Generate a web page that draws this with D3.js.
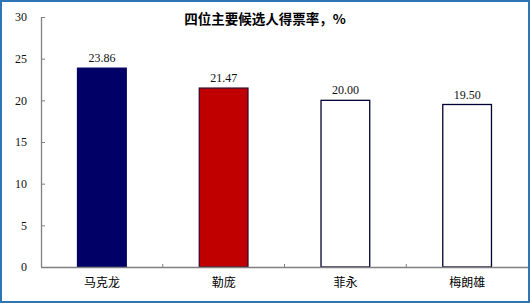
<!DOCTYPE html>
<html>
<head>
<meta charset="utf-8">
<script src="https://cdn.jsdelivr.net/npm/d3@7"></script>
<style>
  body { margin: 0; background: #fff; }
  svg { display: block; }
</style>
</head>
<body>
<div id="chart"></div>
<script>
(function() {
    'use strict';

    // data
    var candidates = ["马克龙", "勒庞", "菲永", "梅朗雄"];
    var voteShare = [23.86, 21.47, 20.00, 19.50];
    var yTicks = [0, 5, 10, 15, 20, 25, 30];
    var chartTitle = "四位主要候选人得票率，%";

    var fills = ["#000066", "#C00000", "#FFFFFF", "#FFFFFF"];
    var strokes = ["#000066", "#3A0A2E", "#000033", "#000033"];

    var width = 530, height = 303;
    var margin = { top: 17, right: 2, bottom: 36, left: 41 };

    var svg = d3.select("#chart").append("svg")
        .attr("width", width)
        .attr("height", height);

    // blue frame
    svg.append("rect")
        .attr("x", 1).attr("y", 1)
        .attr("width", width - 2).attr("height", height - 2)
        .attr("fill", "none")
        .attr("stroke", "#2E75B6")
        .attr("stroke-width", 2);

    var x = d3.scaleBand()
        .domain(candidates)
        .range([margin.left, width - margin.right])
        .paddingInner(0.6)
        .paddingOuter(0.3);

    var y = d3.scaleLinear()
        .domain([0, 30])
        .range([height - margin.bottom, margin.top]);

    // bars
    svg.selectAll("rect.bar")
        .data(voteShare).enter()
        .append("rect")
        .attr("class", "bar")
        .attr("x", function(d, i) { return x(candidates[i]); })
        .attr("y", function(d) { return y(d); })
        .attr("width", x.bandwidth())
        .attr("height", function(d) { return y(0) - y(d); })
        .attr("fill", function(d, i) { return fills[i]; })
        .attr("stroke", function(d, i) { return strokes[i]; })
        .attr("stroke-width", 1.3);

    // value labels
    svg.selectAll("text.val")
        .data(voteShare).enter()
        .append("text")
        .attr("class", "val")
        .attr("x", function(d, i) { return x(candidates[i]) + x.bandwidth() / 2; })
        .attr("y", function(d) { return y(d) - 6; })
        .attr("text-anchor", "middle")
        .attr("font-family", "Liberation Serif, serif")
        .attr("font-size", 12)
        .attr("fill", "#111")
        .text(function(d) { return d.toFixed(2); });

    // y axis
    var yAxis = svg.append("g")
        .attr("transform", "translate(" + margin.left + ",0)")
        .call(d3.axisRight(y).tickValues(yTicks).tickSize(4).tickFormat(d3.format("d")));
    yAxis.select(".domain").attr("stroke", "#808080").attr("stroke-width", 1.3)
        .attr("d", "M0.5," + y(30) + "V" + y(0));
    yAxis.selectAll(".tick line").attr("stroke", "#808080");
    yAxis.selectAll(".tick text")
        .attr("x", -14)
        .attr("text-anchor", "end")
        .attr("font-family", "Liberation Serif, serif")
        .attr("font-size", 12)
        .attr("fill", "#111");

    // x axis
    var bandStep = x.step();
    var xAxis = svg.append("g")
        .attr("transform", "translate(0," + y(0) + ")")
        .call(d3.axisBottom(x).tickSize(0));
    xAxis.select(".domain").attr("stroke", "#808080").attr("stroke-width", 1.3)
        .attr("d", "M" + margin.left + ",0.5H" + (width - margin.right));
    xAxis.selectAll(".tick text")
        .attr("y", 11)
        .attr("font-family", "Noto Sans CJK SC, sans-serif")
        .attr("font-size", 12)
        .attr("fill", "#000");

    // category separators (inside ticks)
    var sepPos = d3.range(1, candidates.length).map(function(i) { return margin.left + i * bandStep; });
    svg.selectAll("line.sep")
        .data(sepPos).enter()
        .append("line")
        .attr("class", "sep")
        .attr("x1", function(d) { return d; })
        .attr("x2", function(d) { return d; })
        .attr("y1", y(0))
        .attr("y2", y(0) - 3)
        .attr("stroke", "#808080");

    // title
    svg.append("text")
        .attr("x", 265)
        .attr("y", 24)
        .attr("text-anchor", "middle")
        .attr("font-family", "Noto Sans CJK SC, sans-serif")
        .attr("font-weight", "bold")
        .attr("font-size", 13.5)
        .attr("fill", "#000")
        .text(chartTitle);
})();
</script>
</body>
</html>
